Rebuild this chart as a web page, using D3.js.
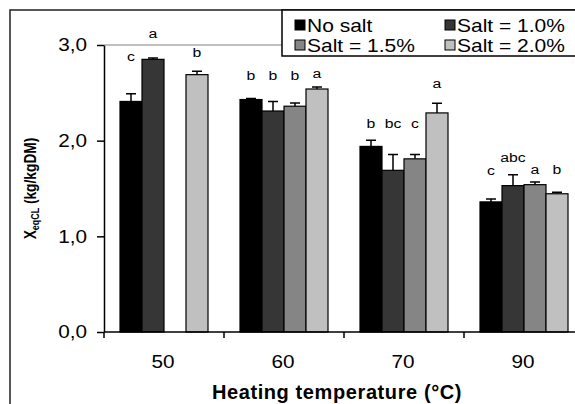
<!DOCTYPE html>
<html>
<head>
<meta charset="utf-8">
<script src="https://cdn.jsdelivr.net/npm/d3@7"></script>
<style>
  body { margin: 0; background: #fff; }
  svg { display: block; font-family: Arial, "Liberation Sans", sans-serif; }
</style>
</head>
<body>
<div id="root"></div>
<script>
// data
let temps = ['50', '60', '70', '90']
let series = ['No salt', 'Salt = 1.0%', 'Salt = 1.5%', 'Salt = 2.0%']
let colors = ['#000000', '#363636', '#858585', '#c0c0c0']

let noSalt = [2.41, 2.43, 1.94, 1.36]
let salt10 = [2.85, 2.31, 1.69, 1.53]
let salt15 = [null, 2.36, 1.81, 1.54]
let salt20 = [2.69, 2.54, 2.29, 1.445]

let noSaltErr = [0.08, 0.01, 0.065, 0.03]
let salt10Err = [0.015, 0.1, 0.165, 0.115]
let salt15Err = [null, 0.035, 0.045, 0.028]
let salt20Err = [0.035, 0.02, 0.1, 0.015]

// significance letters and the height (axis units) they sit at
let letters = [['c', 'a', '', 'b'], ['b', 'b', 'b', 'a'], ['b', 'bc', 'c', 'a'], ['c', 'abc', 'a', 'b']]
let letterAt = [[2.835, 3.075, 0, 2.876], [2.635, 2.635, 2.635, 2.656], [2.13, 2.13, 2.13, 2.55], [1.641, 1.777, 1.651, 1.651]]

let yTicks = [0, 1, 2, 3]

let values = [noSalt, salt10, salt15, salt20]
let errs = [noSaltErr, salt10Err, salt15Err, salt20Err]

let W = 575, H = 404
document.getElementById('root').innerHTML += `<svg width=${W} height=${H}></svg>`
let svg = d3.select('svg')

let mLeft = 104, mTop = 45, mBottom = 332
let sx = 1.12 // the original picture is a little wide, text looks stretched

let x0 = d3.scaleBand().domain(temps).range([mLeft, mLeft + 480])
let x1 = d3.scaleBand().domain(series).range([16, 104])
let y = d3.scaleLinear().domain([0, 3]).range([mBottom, mTop])

// wide text helper
let wide = (sel, k) => sel.each(function () {
  let t = d3.select(this)
  let tx = +t.attr('x') || 0, ty = +t.attr('y') || 0
  t.attr('x', 0).attr('y', 0).attr('transform', `translate(${tx},${ty}) scale(${k},1)`)
})

// outer frame (left + top only visible)
svg.append('path')
   .attr('d', `M10,${H} L10,10 L${W},10`)
   .attr('fill', 'none').attr('stroke', '#222').attr('stroke-width', 1.5)

// plot top border
svg.append('line')
   .attr('x1', mLeft).attr('x2', W).attr('y1', y(3)).attr('y2', y(3))
   .attr('stroke', '#808080').attr('stroke-width', 1)

// bars
let rows = []
temps.forEach((t, gi) => {
  series.forEach((s, si) => {
    if (values[si][gi] != null)
      rows.push({t, s, si, gi, v: values[si][gi], e: errs[si][gi]})
  })
})

let g = svg.append('g')

g.selectAll('.err').data(rows).enter().append('path')
   .attr('class', 'err')
   .attr('d', d => {
     let cx = x0(d.t) + x1(d.s) + x1.bandwidth() / 2
     let yt = y(d.v + d.e)
     return `M${cx},${y(d.v)} V${yt} M${cx - 5},${yt} H${cx + 5}`
   })
   .attr('stroke', '#000').attr('stroke-width', 1.5).attr('fill', 'none')

g.selectAll('.bar').data(rows).enter().append('rect')
   .attr('class', 'bar')
   .attr('x', d => x0(d.t) + x1(d.s))
   .attr('y', d => y(d.v))
   .attr('width', x1.bandwidth())
   .attr('height', d => y(0) - y(d.v))
   .attr('fill', d => colors[d.si])
   .attr('stroke', '#000').attr('stroke-width', 1.2)

// letters
let lab = []
temps.forEach((t, gi) => series.forEach((s, si) => {
  if (letters[gi][si]) lab.push({t, s, txt: letters[gi][si], at: letterAt[gi][si]})
}))
g.selectAll('.let').data(lab).enter().append('text')
   .attr('x', d => x0(d.t) + x1(d.s) + x1.bandwidth() / 2)
   .attr('y', d => y(d.at))
   .attr('text-anchor', 'middle')
   .attr('font-size', 13.5)
   .text(d => d.txt)
   .call(wide, 1.17)

// y axis
let yAxis = svg.append('g')
   .attr('transform', `translate(${mLeft},0)`)
   .call(d3.axisLeft(y).tickValues(yTicks).tickSize(7).tickPadding(10).tickSizeOuter(0)
          .tickFormat(d => d.toFixed(1).replace('.', ',')))
yAxis.selectAll('text').attr('font-size', 18.5).attr('fill', '#000').call(wide, sx)
yAxis.selectAll('line, path').attr('stroke', '#000').attr('stroke-width', 1.5)

// x axis
let xAxis = svg.append('g').attr('transform', `translate(0,${mBottom})`)
xAxis.append('line').attr('x1', mLeft).attr('x2', W).attr('stroke', '#000').attr('stroke-width', 1.5)
xAxis.selectAll('.tk').data(temps).enter().append('line')
   .attr('x1', d => x0(d)).attr('x2', d => x0(d))
   .attr('y1', 0).attr('y2', 6)
   .attr('stroke', '#000').attr('stroke-width', 1.5)
xAxis.selectAll('.lb').data(temps).enter().append('text')
   .attr('x', d => x0(d) + x0.bandwidth() / 2 - 1)
   .attr('y', 36)
   .attr('text-anchor', 'middle')
   .attr('font-size', 18.5)
   .text(d => d)
   .call(wide, sx)

svg.append('text')
   .attr('x', 337).attr('y', 399)
   .attr('text-anchor', 'middle')
   .attr('font-size', 20).attr('font-weight', 'bold')
   .attr('letter-spacing', 0.6)
   .text('Heating temperature (°C)')

let yl = svg.append('text')
   .attr('transform', `translate(36,${(mTop + mBottom) / 2}) rotate(-90) scale(0.81,1)`)
   .attr('text-anchor', 'middle')
   .attr('font-size', 17).attr('font-weight', 'bold')
yl.append('tspan').text('X')
yl.append('tspan').attr('font-size', 11).attr('dy', 3).text('eqCL')
yl.append('tspan').attr('dy', -3).text(' (kg/kgDM)')

// legend
let leg = svg.append('g').attr('transform', 'translate(282,10)')
leg.append('rect').attr('width', 310).attr('height', 46)
   .attr('fill', '#fff').attr('stroke', '#000').attr('stroke-width', 1.5)
let items = leg.selectAll('.it').data(series).enter().append('g')
   .attr('transform', (d, i) => `translate(${13 + (i % 2) * 150},${i < 2 ? 9 : 29})`)
items.append('rect').attr('y', 1).attr('width', 10).attr('height', 10)
   .attr('fill', (d, i) => colors[i]).attr('stroke', '#000').attr('stroke-width', 1)
items.append('text').attr('x', 12).attr('y', 13)
   .attr('font-size', 17.5)
   .text(d => d)
   .call(wide, 1.2)
</script>
</body>
</html>
